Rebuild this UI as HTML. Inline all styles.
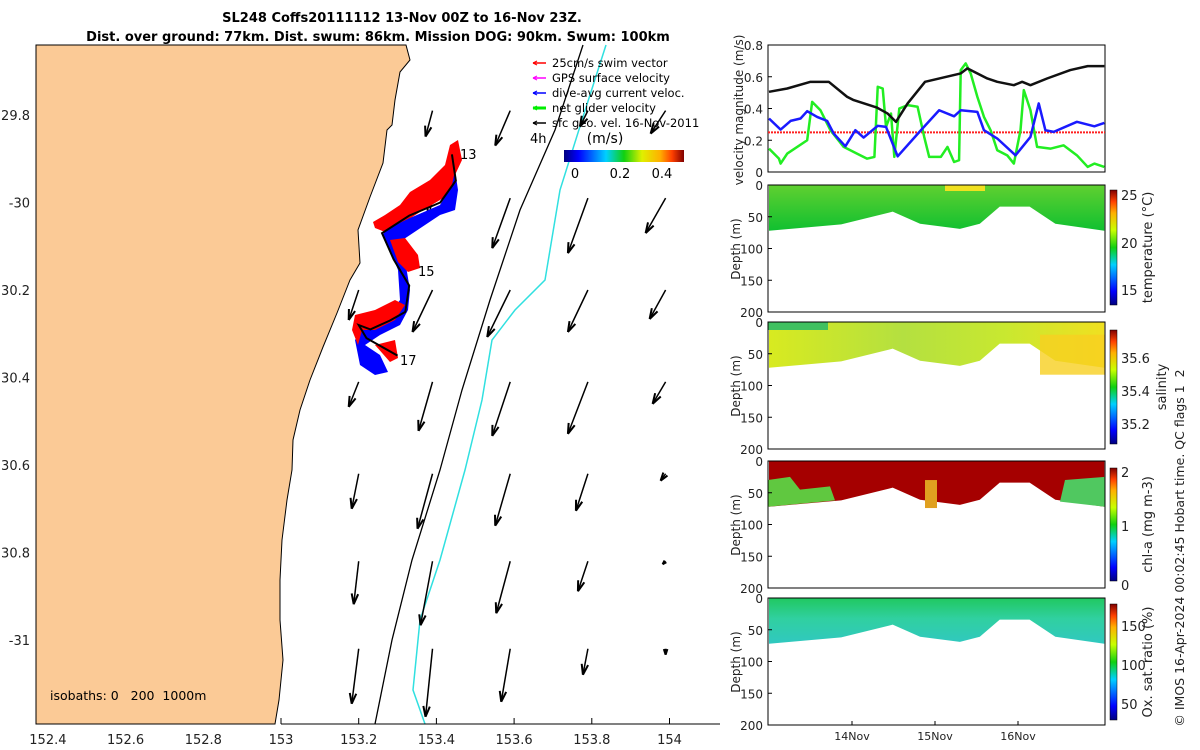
<!DOCTYPE html>
<html><head><meta charset="utf-8"><style>
body{margin:0;background:#fff}
svg{display:block;font-family:"DejaVu Sans","Liberation Sans",sans-serif}
.pre{white-space:pre}
</style></head><body>
<svg id="fig" width="1200" height="750" viewBox="0 0 1200 750" xmlns="http://www.w3.org/2000/svg">
<defs>
<linearGradient id="jetV" x1="0" y1="1" x2="0" y2="0">
<stop offset="0" stop-color="#00007f"/><stop offset="0.12" stop-color="#0000ff"/><stop offset="0.35" stop-color="#00d0ff"/><stop offset="0.5" stop-color="#10d010"/><stop offset="0.65" stop-color="#c8ff00"/><stop offset="0.8" stop-color="#ffb000"/><stop offset="0.9" stop-color="#ff4000"/><stop offset="1" stop-color="#800000"/></linearGradient>
<linearGradient id="jetH" x1="0" y1="0" x2="1" y2="0">
<stop offset="0" stop-color="#00007f"/><stop offset="0.12" stop-color="#0000ff"/><stop offset="0.35" stop-color="#00d0ff"/><stop offset="0.5" stop-color="#10d010"/><stop offset="0.65" stop-color="#e0f000"/><stop offset="0.8" stop-color="#ffb000"/><stop offset="0.9" stop-color="#ff4000"/><stop offset="1" stop-color="#800000"/></linearGradient>
<linearGradient id="gT" x1="0" y1="0" x2="0" y2="1"><stop offset="0" stop-color="#60d030"/><stop offset="1" stop-color="#10c030"/></linearGradient>
<linearGradient id="gS" x1="0" y1="0" x2="1" y2="0"><stop offset="0" stop-color="#d8ea20"/><stop offset="0.4" stop-color="#b4e040"/><stop offset="0.7" stop-color="#c8e830"/><stop offset="1" stop-color="#f0e020"/></linearGradient>
<linearGradient id="gO" x1="0" y1="0" x2="0" y2="1"><stop offset="0" stop-color="#20c860"/><stop offset="0.45" stop-color="#30d0a0"/><stop offset="1" stop-color="#30c8c0"/></linearGradient>
</defs>
<g id="map"></g>
<g id="right"></g>
</svg>
<script>
// ---- velocity chart data (days since 13-Nov 00Z) ----
const blackDays=[0,0.22,0.5,0.72,0.94,1.02,1.3,1.43,1.53,1.67,1.88,2.31,2.39,2.63,2.75,2.95,3.05,3.15,3.35,3.63,3.84,4.04];
const blackVals=[0.505,0.526,0.568,0.568,0.474,0.453,0.406,0.368,0.316,0.432,0.568,0.621,0.653,0.589,0.568,0.547,0.568,0.547,0.589,0.642,0.667,0.667];
const blueDays=[0,0.14,0.26,0.38,0.46,0.58,0.70,0.78,0.92,1.04,1.14,1.31,1.41,1.55,1.83,2.05,2.23,2.31,2.51,2.59,2.75,2.97,3.15,3.25,3.33,3.43,3.71,3.92,4.04];
const blueVals=[0.337,0.267,0.322,0.337,0.383,0.347,0.322,0.242,0.162,0.263,0.217,0.291,0.284,0.099,0.263,0.389,0.351,0.389,0.379,0.263,0.211,0.105,0.221,0.432,0.263,0.253,0.316,0.288,0.309];
const greenDays=[0,0.12,0.14,0.22,0.46,0.52,0.62,0.74,0.9,1.06,1.18,1.27,1.31,1.37,1.41,1.47,1.51,1.57,1.67,1.79,1.87,1.93,2.07,2.15,2.23,2.29,2.31,2.37,2.43,2.51,2.59,2.67,2.75,2.87,2.95,3.03,3.07,3.15,3.23,3.39,3.55,3.71,3.84,3.92,4.04];
const greenVals=[0.147,0.084,0.053,0.116,0.2,0.442,0.389,0.263,0.158,0.116,0.084,0.095,0.537,0.526,0.284,0.368,0.095,0.4,0.421,0.411,0.221,0.095,0.095,0.158,0.063,0.074,0.642,0.684,0.621,0.474,0.347,0.263,0.137,0.105,0.053,0.263,0.516,0.389,0.158,0.147,0.168,0.105,0.032,0.053,0.032];
const swimSpeed=0.25;
const velTicks=[0,0.2,0.4,0.6,0.8];
const dayLabels=["14Nov","15Nov","16Nov"];
const dayTicks=[1,2,3];
// dive profile max depth
const profDays=[0,0.87,1.49,1.82,2.3,2.54,2.78,3.14,3.45,4.06];
const profDepth=[72,62,42,61,69,61,34,34,61,72];
const depthTicks=[0,50,100,150,200];
// map data
const lonTicks=[152.4,152.6,152.8,153,153.2,153.4,153.6,153.8,154];
const latTicks=[29.8,30,30.2,30.4,30.6,30.8,31];
const latLabels=["29.8","-30","30.2","30.4","30.6","30.8","-31"];
const arrowLon=[153.2,153.39,153.59,153.79,153.99];
const arrowLat=[29.79,29.99,30.2,30.41,30.62,30.82,31.02];
// u,v in m/s (v positive north)
const arrowU=[[null,-0.07,-0.15,-0.08,-0.15],[null,-0.04,-0.18,-0.2,-0.2],[-0.1,-0.2,-0.23,-0.2,-0.16],[-0.1,-0.14,-0.18,-0.2,-0.13],[-0.07,-0.15,-0.15,-0.12,-0.05],[-0.05,-0.12,-0.14,-0.1,-0.03],[-0.07,-0.07,-0.09,-0.05,0]];
const arrowV=[[null,-0.26,-0.35,-0.16,-0.23],[null,-0.2,-0.5,-0.55,-0.35],[-0.3,-0.42,-0.47,-0.42,-0.29],[-0.25,-0.49,-0.54,-0.52,-0.22],[-0.35,-0.55,-0.52,-0.37,-0.07],[-0.43,-0.64,-0.52,-0.3,-0.03],[-0.55,-0.68,-0.53,-0.26,-0.06]];
const trackLon=[153.44,153.45,153.41,153.33,153.26,153.29,153.33,153.32,153.28,153.23,153.2,153.22,153.3];
const trackLat=[29.89,29.95,30.0,30.03,30.07,30.13,30.19,30.25,30.27,30.29,30.28,30.31,30.35];

const NS="http://www.w3.org/2000/svg";
function mk(tag,attrs,parent,text){const e=document.createElementNS(NS,tag);for(const k in attrs)e.setAttribute(k,attrs[k]);if(text!==undefined)e.textContent=text;parent.appendChild(e);return e;}
const map=document.getElementById('map'), right=document.getElementById('right'), fig=document.getElementById('fig');

// ---------- MAP ----------
const lx=lon=>281+(lon-153)*388.5;
const ly=lat=>115+(lat-29.8)/0.2*87.5;
let t=mk('text',{x:402,y:22,'text-anchor':'middle','font-size':13,'font-weight':'bold'},fig,'SL248 Coffs20111112 13-Nov 00Z to 16-Nov 23Z.');


t=mk('text',{x:378,y:41,'text-anchor':'middle','font-size':13,'font-weight':'bold'},fig,'Dist. over ground: 77km. Dist. swum: 86km. Mission DOG: 90km. Swum: 100km');



let land=mk('path',{d:'M36 45 L406 45 L410 60 L400 72 L395 100 L392 125 L387 130 L383 163 L370 197 L358 230 L360 263 L350 280 L337 313 L323 347 L310 380 L300 410 L293 440 L292 470 L287 500 L282 540 L280 580 L280 620 L283 660 L279 700 L275 724 L36 724 Z',fill:'#fbca96',stroke:'#000','stroke-width':1},map);


let iso1=mk('polyline',{points:'583,45 555,130 520,210 490,300 462,390 440,470 412,560 392,640 375,724',fill:'none',stroke:'#000','stroke-width':1.3},map);


let iso2=mk('polyline',{points:'606,45 582,120 560,190 545,280 515,310 492,340 482,400 465,470 440,560 420,620 413,690 425,724',fill:'none',stroke:'#30e0e0','stroke-width':1.5},map);



// arrows
for(let r=0;r<arrowLat.length;r++)for(let c=0;c<arrowLon.length;c++){
  const u=arrowU[r][c],v=arrowV[r][c]; if(u===null)continue;
  const x0=lx(arrowLon[c]),y0=ly(arrowLat[r]),x1=x0+u*100,y1=y0-v*100;
  const g=mk('g',{},map);
  
  
  mk('line',{x1:x0,y1:y0,x2:x1,y2:y1,stroke:'#000','stroke-width':1.5},g);
  const a=Math.atan2(y1-y0,x1-x0),L=Math.min(11,Math.hypot(x1-x0,y1-y0));
  mk('path',{d:`M${x1} ${y1} L${x1-L*Math.cos(a-0.3)} ${y1-L*Math.sin(a-0.3)} M${x1} ${y1} L${x1-L*Math.cos(a+0.3)} ${y1-L*Math.sin(a+0.3)}`,stroke:'#000','stroke-width':2,fill:'none'},g);
}
// glider blobs
const blobs=[['#ff0000','373,222 385,215 400,205 410,192 430,180 445,165 450,145 458,140 462,160 455,175 455,190 440,200 420,212 400,225 385,232 375,228'],
['#0000ff','385,230 410,218 440,205 452,185 455,170 458,190 455,210 440,215 425,225 410,235 395,245 405,260 410,290 408,310 400,325 380,335 365,345 380,355 388,372 375,375 360,365 355,340 362,330 385,320 400,300 398,270 390,250 383,235'],
['#ff0000','390,240 405,238 418,255 420,268 408,272 398,262'],
['#ff0000','355,315 375,310 395,300 405,305 395,320 375,330 362,330 358,345 352,330'],
['#ff0000','375,345 395,340 398,358 390,362']];
blobs.forEach(b=>{const p=mk('polygon',{points:b[1],fill:b[0]},map);

});
let tr=mk('polyline',{points:trackLon.map((o,i)=>lx(o)+','+ly(trackLat[i])).join(' '),fill:'none',stroke:'#000','stroke-width':2},map);


[['13',460,159],['15',418,276],['17',400,365]].forEach(d=>{const e=mk('text',{x:d[1],y:d[2],'font-size':13},map,d[0]);

});

// axes
let ax=mk('line',{x1:281,y1:724,x2:720,y2:724,stroke:'#000'},map);


lonTicks.forEach(v=>{const x=lx(v);if(x>=281)mk('line',{x1:x,y1:724,x2:x,y2:718,stroke:'#000'},map);
const e=mk('text',{x:x,y:744,'text-anchor':'middle','font-size':13,fill:'#222'},map,String(v));

});
latTicks.forEach((v,i)=>{const e=mk('text',{x:30,y:ly(v)+5,'text-anchor':'end','font-size':13,fill:'#222'},map,latLabels[i]);

});
t=mk('text',{x:50,y:700,'font-size':12.5,class:'pre'},map,'isobaths: 0   200  1000m');



// legend
const leg=mk('g',{},map);


[['#ff0000','25cm/s swim vector'],['#ff00ff','GPS surface velocity'],['#0000ff','dive-avg current veloc.'],['#00ee00','net glider velocity'],['#000','sfc geo. vel. 16-Nov-2011']].forEach((d,i)=>{
  const y=67+i*15;
  const g=mk('g',{},leg);
  
  
  mk('line',{x1:533,y1:y-4,x2:546,y2:y-4,stroke:d[0],'stroke-width':i==3?3:1.5},g);
  mk('path',{d:`M533 ${y-4} l4 -2 M533 ${y-4} l4 2`,stroke:d[0],'stroke-width':1.2},g);
  mk('text',{x:552,y:y,'font-size':11.5},g,d[1]);
});
t=mk('text',{x:530,y:143,'font-size':13},leg,'4h');
mk('text',{x:605,y:143,'font-size':14,'text-anchor':'middle'},leg,'(m/s)');
let cb=mk('rect',{x:564,y:150,width:120,height:12,fill:'url(#jetH)'},leg);


[['0',575],['0.2',620],['0.4',662]].forEach(d=>mk('text',{x:d[1],y:178,'font-size':13,'text-anchor':'middle'},leg,d[0]));

// ---------- RIGHT: velocity chart ----------
const X0=769,PX=83;const dx=d=>X0+d*PX;
const vy=v=>172-v/0.8*127;
const vel=mk('g',{},right);


mk('rect',{x:768,y:45,width:337,height:127,fill:'none',stroke:'#000'},vel);
velTicks.forEach(v=>{mk('line',{x1:768,y1:vy(v),x2:772,y2:vy(v),stroke:'#000'},vel);
const e=mk('text',{x:763,y:vy(v)+5,'text-anchor':'end','font-size':12,fill:'#222'},vel,String(v));

});
t=mk('text',{x:0,y:0,transform:'translate(743,110) rotate(-90)','text-anchor':'middle','font-size':12,fill:'#222'},vel,'velocity magnitude (m/s)');


let sw=mk('line',{x1:768,y1:vy(swimSpeed),x2:1105,y2:vy(swimSpeed),stroke:'#ff2020','stroke-width':2,'stroke-dasharray':'2 1'},vel);


[[greenDays,greenVals,'#22ee22','net-glider-velocity-line'],[blueDays,blueVals,'#1a1aff','dive-avg-current-line'],[blackDays,blackVals,'#111','surface-velocity-line']].forEach(s=>{
  const p=mk('polyline',{points:s[0].map((d,i)=>dx(d)+','+vy(s[1][i])).join(' '),fill:'none',stroke:s[2],'stroke-width':2.5,'stroke-linejoin':'round'},vel);
  
  
});

// ---------- section panels ----------
const panels=[{top:185,title:'temperature (°C)',tx:1152,fill:'url(#gT)',cbTop:190,cbBot:305,ticks:[['25',195],['20',243],['15',290]],name:'temperature-panel'},
{top:322,title:'salinity',tx:1166,fill:'url(#gS)',cbTop:330,cbBot:444,ticks:[['35.6',358],['35.4',391],['35.2',424]],name:'salinity-panel'},
{top:461,title:'chl-a (mg m-3)',tx:1152,fill:'#a50000',cbTop:468,cbBot:581,ticks:[['2',472],['1',526],['0',585]],name:'chlorophyll-panel'},
{top:598,title:'Ox. sat. ratio (%)',tx:1152,fill:'url(#gO)',cbTop:604,cbBot:720,ticks:[['150',626],['100',665],['50',704]],name:'oxygen-panel'}];
panels.forEach((P,pi)=>{
  const g=mk('g',{},right);
  
  
  const dy=d=>P.top+d/200*127;
  let pts=`${dx(0)},${dy(0)} `+profDays.map((d,i)=>dx(Math.min(d,4.04))+','+dy(profDepth[i])).join(' ')+` ${dx(4.04)},${dy(0)}`;
  const poly=mk('polygon',{points:pts,fill:P.fill},g);
  
  
  if(pi==0){mk('rect',{x:945,y:dy(0),width:40,height:6,fill:'#f0e020'},g);}
  if(pi==1){mk('rect',{x:768,y:dy(0),width:60,height:8,fill:'#40c060'},g);mk('rect',{x:1040,y:dy(20),width:65,height:40,fill:'#f8d020','opacity':0.8},g);}
  if(pi==2){mk('polygon',{points:`768,${dy(30)} 790,${dy(25)} 800,${dy(45)} 830,${dy(40)} 835,${dy(62)} 768,${dy(72)}`,fill:'#60c840'},g);
           mk('polygon',{points:`1065,${dy(30)} 1105,${dy(25)} 1105,${dy(72)} 1060,${dy(64)}`,fill:'#50c860'},g);
           mk('rect',{x:925,y:dy(30),width:12,height:28,fill:'#e0a020'},g);}
  mk('rect',{x:768,y:P.top,width:337,height:127,fill:'none',stroke:'#000'},g);
  depthTicks.forEach(d=>{mk('line',{x1:768,y1:dy(d),x2:772,y2:dy(d),stroke:'#000'},g);
  const e=mk('text',{x:763,y:dy(d)+5,'text-anchor':'end','font-size':12,fill:'#222'},g,String(d));
  
  });
  t=mk('text',{x:0,y:0,transform:`translate(740,${P.top+64}) rotate(-90)`,'text-anchor':'middle','font-size':12,fill:'#222'},g,'Depth (m)');
  
  
  const cbr=mk('rect',{x:1110,y:P.cbTop,width:7,height:P.cbBot-P.cbTop,fill:'url(#jetV)',stroke:'#000','stroke-width':0.5},g);
  
  
  P.ticks.forEach(k=>mk('text',{x:1121,y:k[1]+5,'font-size':13,fill:'#222'},g,k[0]));
  t=mk('text',{x:0,y:0,transform:`translate(${P.tx},${(P.cbTop+P.cbBot)/2}) rotate(-90)`,'text-anchor':'middle','font-size':13,fill:'#222'},g,P.title);
  
  
  if(pi==3){dayTicks.forEach((d,i)=>{mk('line',{x1:dx(d),y1:725,x2:dx(d),y2:721,stroke:'#000'},g);
    const e=mk('text',{x:dx(d),y:740,'text-anchor':'middle','font-size':11,fill:'#222'},g,dayLabels[i]);
    
    });}
});
t=mk('text',{x:0,y:0,transform:'translate(1184,548) rotate(-90)','text-anchor':'middle','font-size':12.5,fill:'#222',class:'pre'},right,'© IMOS 16-Apr-2024 00:02:45 Hobart time. QC flags 1  2');


</script>
</body></html>
